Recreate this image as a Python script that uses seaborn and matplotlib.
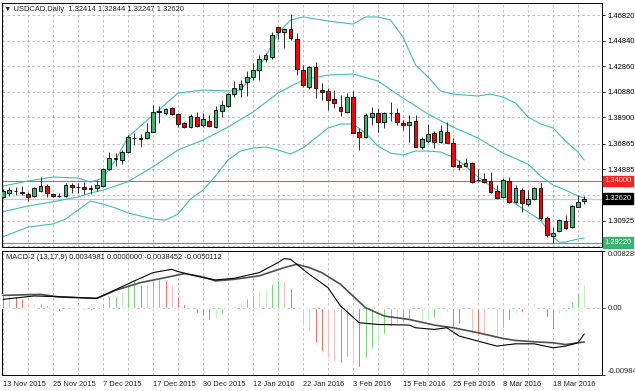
import matplotlib
matplotlib.use("Agg")
import numpy as np
import pandas as pd
import matplotlib.pyplot as plt
import seaborn as sns

sns.set_style("white")
plt.rcParams['font.family'] = ['Liberation Sans', 'DejaVu Sans']

# daily candles, 13 Nov 2015 .. 25 Mar 2016
opens = [1.3279, 1.3304, 1.3323, 1.3314, 1.3301, 1.3283, 1.3322, 1.3360, 1.3298, 1.3286,
         1.3283, 1.3366, 1.3351, 1.3355, 1.3343, 1.3345, 1.3360, 1.3492, 1.3573, 1.3561,
         1.3625, 1.3729, 1.3731, 1.3729, 1.3780, 1.3934, 1.3927, 1.3961, 1.3915, 1.3845,
         1.3814, 1.3896, 1.3834, 1.3865, 1.3814, 1.3942, 1.3979, 1.4069, 1.4108, 1.4162,
         1.4205, 1.4257, 1.4340, 1.4360, 1.4587, 1.4553, 1.4571, 1.4494, 1.4257, 1.4123,
         1.4278, 1.4102, 1.4097, 1.4033, 1.3973, 1.3935, 1.4051, 1.3775, 1.3741, 1.3896,
         1.3927, 1.3857, 1.3926, 1.3922, 1.3850, 1.3829, 1.3865, 1.3664, 1.3710, 1.3772,
         1.3703, 1.3780, 1.3695, 1.3523, 1.3515, 1.3536, 1.3407, 1.3412, 1.3401, 1.3322,
         1.3278, 1.3401, 1.3239, 1.3329, 1.3219, 1.3262, 1.3347, 1.3111, 1.2974, 1.3015,
         1.3092, 1.3041, 1.3200, 1.32414]
highs = [1.3337, 1.3350, 1.3352, 1.3360, 1.3316, 1.3350, 1.3428, 1.3376, 1.3308, 1.3304,
         1.3381, 1.3386, 1.3386, 1.3394, 1.3368, 1.3407, 1.3497, 1.3625, 1.3613, 1.3639,
         1.3754, 1.3772, 1.3762, 1.3845, 1.3986, 1.3979, 1.3961, 1.3971, 1.3927, 1.3855,
         1.3917, 1.3935, 1.3922, 1.3909, 1.3979, 1.4025, 1.4079, 1.4172, 1.4180, 1.4251,
         1.4313, 1.4373, 1.4386, 1.4548, 1.4592, 1.4579, 1.4689, 1.4541, 1.4296, 1.4288,
         1.4321, 1.4154, 1.4115, 1.4102, 1.4064, 1.4077, 1.4097, 1.3806, 1.3922, 1.3973,
         1.3961, 1.3935, 1.4012, 1.3961, 1.3870, 1.3909, 1.3909, 1.3741, 1.3840, 1.3788,
         1.3832, 1.3853, 1.3729, 1.3561, 1.3574, 1.3548, 1.3489, 1.3463, 1.3471, 1.3368,
         1.3420, 1.3428, 1.3368, 1.3342, 1.3329, 1.3355, 1.3386, 1.3128, 1.3046, 1.3103,
         1.3136, 1.3213, 1.3291, 1.32844]
lows = [1.3268, 1.3285, 1.3291, 1.3291, 1.3247, 1.3273, 1.3314, 1.3278, 1.3273, 1.3278,
        1.3273, 1.3304, 1.3304, 1.3298, 1.3298, 1.3324, 1.3355, 1.3484, 1.3515, 1.3530,
        1.3618, 1.3677, 1.3664, 1.3721, 1.3775, 1.3845, 1.3909, 1.3909, 1.3819, 1.3809,
        1.3809, 1.3819, 1.3816, 1.3814, 1.3809, 1.3896, 1.3971, 1.4051, 1.4051, 1.4056,
        1.4180, 1.4180, 1.4321, 1.4340, 1.4494, 1.4425, 1.4489, 1.4218, 1.4123, 1.4108,
        1.4038, 1.4025, 1.3948, 1.3961, 1.3901, 1.3922, 1.3768, 1.3639, 1.3729, 1.3832,
        1.3780, 1.3806, 1.3865, 1.3832, 1.3793, 1.3703, 1.3659, 1.3644, 1.3695, 1.3652,
        1.3690, 1.3690, 1.3505, 1.3484, 1.3505, 1.3386, 1.3394, 1.3381, 1.3304, 1.3257,
        1.3270, 1.3231, 1.3227, 1.3162, 1.3206, 1.3252, 1.3097, 1.2968, 1.2922, 1.3007,
        1.3026, 1.3033, 1.3196, 1.32247]
closes = [1.3318, 1.3329, 1.3325, 1.3306, 1.3278, 1.3342, 1.3360, 1.3304, 1.3283, 1.3284,
          1.3366, 1.3350, 1.3349, 1.3335, 1.3341, 1.3370, 1.3492, 1.3574, 1.3575, 1.3621,
          1.3741, 1.3731, 1.3726, 1.3780, 1.3930, 1.3937, 1.3953, 1.3915, 1.3840, 1.3819,
          1.3904, 1.3826, 1.3878, 1.3824, 1.3948, 1.3986, 1.4069, 1.4115, 1.4146, 1.4205,
          1.4257, 1.4340, 1.4373, 1.4527, 1.4553, 1.4571, 1.4502, 1.4262, 1.4141, 1.4282,
          1.4115, 1.4089, 1.4025, 1.3999, 1.3940, 1.4051, 1.3772, 1.3741, 1.3909, 1.3927,
          1.3857, 1.3922, 1.3928, 1.3857, 1.3829, 1.3857, 1.3664, 1.3721, 1.3762, 1.3703,
          1.3788, 1.3695, 1.3515, 1.3505, 1.3540, 1.3394, 1.3405, 1.3394, 1.3316, 1.3270,
          1.3407, 1.3239, 1.3342, 1.3227, 1.3262, 1.3347, 1.3111, 1.2981, 1.2995, 1.3097,
          1.3033, 1.3206, 1.3234, 1.32620]

# Bollinger bands (bar index -> price)
upper_idx = [0, 4, 8, 12, 14, 16, 18, 20, 24, 28, 32, 36, 38, 40, 42, 44, 46, 48, 52, 56,
             58, 60, 62, 64, 66, 68, 70, 72, 76, 78, 80, 82, 84, 86, 88, 90, 92, 93]
upper_band = [1.3360, 1.3399, 1.3430, 1.3422, 1.3391, 1.3422, 1.3561, 1.3739, 1.3909, 1.4079,
              1.4102, 1.4095, 1.4102, 1.4218, 1.4357, 1.4543, 1.4643, 1.4667, 1.4636, 1.4612,
              1.4667, 1.4667, 1.4643, 1.4512, 1.4296, 1.4203, 1.4095, 1.4071, 1.4056, 1.4071,
              1.4048, 1.4002, 1.3894, 1.3840, 1.3809, 1.3708, 1.3623, 1.3561]
mid_idx = [0, 4, 8, 12, 14, 16, 20, 24, 28, 32, 36, 40, 44, 48, 52, 56, 60, 64, 68, 72,
           76, 80, 84, 86, 88, 90, 92, 93]
mid_band = [1.3162, 1.3206, 1.3239, 1.3275, 1.3306, 1.3329, 1.3394, 1.3509, 1.3639, 1.3716,
            1.3816, 1.3932, 1.4079, 1.4180, 1.4218, 1.4226, 1.4172, 1.4040, 1.3917, 1.3816,
            1.3731, 1.3615, 1.3530, 1.3438, 1.3368, 1.3329, 1.3283, 1.3268]
lower_idx = [0, 4, 8, 10, 12, 14, 16, 18, 20, 24, 26, 28, 30, 32, 34, 36, 38, 40, 42, 44,
             46, 48, 50, 52, 54, 56, 58, 60, 62, 64, 66, 68, 70, 72, 74, 76, 78, 80, 82, 84,
             86, 88, 89, 90, 92, 93]
lower_band = [1.2968, 1.3043, 1.3067, 1.3105, 1.3175, 1.3244, 1.3221, 1.3190, 1.3152, 1.3105,
              1.3097, 1.3144, 1.3260, 1.3329, 1.3438, 1.3561, 1.3631, 1.3654, 1.3662, 1.3639,
              1.3608, 1.3654, 1.3731, 1.3809, 1.3840, 1.3840, 1.3770, 1.3669, 1.3615, 1.3600,
              1.3631, 1.3631, 1.3623, 1.3584, 1.3515, 1.3430, 1.3360, 1.3298, 1.3221, 1.3159,
              1.3097, 1.2966, 1.2927, 1.2927, 1.2951, 1.2958]

# MACD-2 (13,17,9)
hist = [0.00200, 0.00180, 0.00165, 0.00128, 0.00085, 0.00073, 0.00073, 0.00034, 0.00003, -0.00049,
        -0.00013, -0.00012, 0.00004, -0.00032, -0.00040, -0.00013, 0.00073, 0.00165, 0.00178, 0.00240,
        0.00352, 0.00400, 0.00352, 0.00340, 0.00420, 0.00420, 0.00403, 0.00333, 0.00165, 0.00049,
        0.00003, -0.00073, -0.00117, -0.00186, -0.00156, -0.00098, -0.00004, 0.00030, 0.00078, 0.00142,
        0.00180, 0.00250, 0.00269, 0.00352, 0.00403, 0.00395, 0.00288, 0.00003, -0.00272, -0.00345,
        -0.00520, -0.00640, -0.00730, -0.00778, -0.00815, -0.00719, -0.00828, -0.00866, -0.00736, -0.00584,
        -0.00508, -0.00388, -0.00266, -0.00225, -0.00220, -0.00185, -0.00238, -0.00200, -0.00185, -0.00155,
        -0.00070, -0.00070, -0.00300, -0.00240, -0.00330, -0.00390, -0.00410, -0.00380, -0.00410, -0.00410,
        -0.00300, -0.00181, -0.00083, -0.00068, -0.00044, 0.00064, -0.00020, -0.00142, -0.00313, -0.00093,
        -0.00068, 0.00103, 0.00235, 0.0034981]
hist_shade = ['r', 'lr', 'r', 'r', 'lr', 'lg', 'g', 'r', 'lr', 'r',
              'lg', 'lg', 'g', 'r', 'r', 'lg', 'g', 'g', 'g', 'lg',
              'g', 'g', 'r', 'lr', 'g', 'g', 'r', 'lr', 'r', 'r',
              'lr', 'r', 'r', 'r', 'lg', 'g', 'lg', 'g', 'lg', 'g',
              'g', 'lg', 'lg', 'g', 'g', 'lr', 'r', 'r', 'lr', 'lr',
              'r', 'r', 'lr', 'lr', 'r', 'g', 'lr', 'r', 'g', 'g',
              'lg', 'g', 'g', 'lg', 'g', 'g', 'r', 'lg', 'lg', 'g',
              'lg', 'lg', 'r', 'r', 'lr', 'lr', 'r', 'lr', 'lr', 'lr',
              'g', 'r', 'lg', 'r', 'lg', 'lg', 'lr', 'r', 'r', 'lg',
              'lg', 'g', 'g', 'lg']
macd_idx = [0, 5, 10, 15, 17, 21, 24, 27, 28, 32, 34, 37, 41, 44, 45, 46, 48, 49, 52, 54,
            57, 60, 65, 66, 69, 71, 73, 76, 79, 82, 85, 88, 90, 92, 93]
macd_line = [0.00122, 0.00172, 0.00157, 0.00136, 0.00220, 0.00391, 0.00513, 0.00561, 0.00528, 0.00440,
             0.00406, 0.00430, 0.00513, 0.00660, 0.00718, 0.00708, 0.00561, 0.00488, 0.00293, 0.00025,
             -0.00220, -0.00245, -0.00254, -0.00293, -0.00318, -0.00293, -0.00415, -0.00488, -0.00561, -0.00528,
             -0.00528, -0.00586, -0.00561, -0.00513, -0.0038452]
signal_idx = [0, 6, 9, 15, 18, 22, 26, 29, 32, 34, 37, 41, 45, 47, 49, 51, 54, 58, 61, 65,
              69, 72, 76, 80, 82, 85, 88, 90, 93]
signal_line = [0.00180, 0.00195, 0.00157, 0.00136, 0.00254, 0.00367, 0.00440, 0.00498, 0.00450, 0.00391,
               0.00415, 0.00465, 0.00586, 0.00635, 0.00586, 0.00513, 0.00342, 0.00000, -0.00122, -0.00172,
               -0.00254, -0.00293, -0.00366, -0.00450, -0.00479, -0.00498, -0.00513, -0.00538, -0.0050112]

date_labels = ['13 Nov 2015', '25 Nov 2015', '7 Dec 2015', '17 Dec 2015', '30 Dec 2015',
               '12 Jan 2016', '22 Jan 2016', '3 Feb 2016', '15 Feb 2016', '25 Feb 2016',
               '8 Mar 2016', '18 Mar 2016']
price_ticks = [1.46820, 1.44840, 1.42860, 1.40880, 1.38900, 1.36865, 1.34885, 1.32905,
               1.30925, 1.28945]
price_tick_labels = ['1.46820', '1.44840', '1.42860', '1.40880', '1.38900', '1.36865',
                     '1.34885', '1.32905', '1.30925', '1.28945']

FS = 5.4
BULL = '#3cb371'
BEAR = '#ff0000'
BAND = '#3fbfb5'
GRID = '#b8b8b8'
shade_colors = {'g': '#1fbf1f', 'lg': '#98ec98', 'r': '#ff1010', 'lr': '#ff9090'}

df = pd.DataFrame({'open': opens, 'high': highs, 'low': lows, 'close': closes})
df['i'] = np.arange(len(df))
df['bull'] = df['close'] >= df['open']

fig = plt.figure(figsize=(6.35, 3.91), dpi=100)
ax = fig.add_axes([2 / 635, 144 / 391, 600 / 635, 244 / 391])
ax2 = fig.add_axes([2 / 635, 16 / 391, 600 / 635, 124 / 391])

# price panel
ax.vlines(df['i'], df['low'], df['high'], color='#303030', lw=0.7, zorder=3)
body_lo = df[['open', 'close']].min(axis=1)
body_h = (df['close'] - df['open']).abs().clip(lower=0.00025)
ax.bar(df['i'], body_h, bottom=body_lo, width=0.62,
       color=np.where(df['bull'], BULL, BEAR), edgecolor='black', linewidth=0.6, zorder=4)

sns.lineplot(x=upper_idx, y=upper_band, ax=ax, color=BAND, lw=0.8, zorder=2)
sns.lineplot(x=mid_idx, y=mid_band, ax=ax, color=BAND, lw=0.8, zorder=2)
sns.lineplot(x=lower_idx, y=lower_band, ax=ax, color=BAND, lw=0.8, zorder=2)

ax.axhline(1.34000, color='#ff5050', lw=0.8, zorder=1)
ax.axhline(1.32620, color='#c8c8c8', lw=0.9, zorder=1)
ax.axhline(1.29220, color='#3cb371', lw=0.8, zorder=1)

ax.set_xlim(-0.16, 95.84)
ax.set_ylim(1.2889, 1.4775)
ax.set_xticks(np.arange(0, 94, 4))
ax.set_xticklabels([])
ax.set_yticks(price_ticks)
ax.set_yticklabels(price_tick_labels)
ax.yaxis.tick_right()
ax.tick_params(axis='y', length=2.5, width=0.6, pad=1.5, labelsize=FS, colors='black')
ax.tick_params(axis='x', length=0)
ax.grid(True, ls=(0, (3, 3)), color=GRID, lw=0.6)
ax.set_axisbelow(True)
ax.text(0.004, 0.988, '\u25bc USDCAD,Daily  1.32414 1.32844 1.32247 1.32620',
        transform=ax.transAxes, va='top', ha='left', fontsize=FS)

trans = ax.get_yaxis_transform()
for val, txt, bg in [(1.34000, '1.34000', '#ff2020'), (1.32620, '1.32620', '#000000'),
                     (1.29220, '1.29220', '#3cb371')]:
    ax.text(1.004, val, txt, transform=trans, va='center', ha='left', fontsize=FS,
            color='white', clip_on=False, zorder=10,
            bbox=dict(boxstyle='square,pad=0.25', fc=bg, ec=bg))

# MACD panel
ax2.bar(np.arange(len(hist)), hist, width=0.32,
        color=[shade_colors[s] for s in hist_shade], zorder=3)
sns.lineplot(x=signal_idx, y=signal_line, ax=ax2, color='#505050', lw=1.2, zorder=4)
sns.lineplot(x=macd_idx, y=macd_line, ax=ax2, color='black', lw=0.8, zorder=5)
ax2.axhline(0, color=GRID, ls=(0, (3, 3)), lw=0.6, zorder=1)

ax2.set_xlim(-0.16, 95.84)
ax2.set_ylim(-0.009840, 0.008289)
ax2.set_xticks(np.arange(0, 94, 8))
ax2.set_xticklabels(date_labels)
ax2.set_xticks(np.arange(4, 94, 8), minor=True)
for lab in ax2.get_xticklabels():
    lab.set_horizontalalignment('left')
ax2.tick_params(axis='x', which='major', length=2.5, width=0.6, pad=1.5, labelsize=FS)
ax2.tick_params(axis='x', which='minor', length=0)
ax2.xaxis.grid(True, which='both', ls=(0, (3, 3)), color=GRID, lw=0.6)
ax2.set_yticks([-0.009840, 0.0, 0.008289])
ax2.set_yticklabels(['-0.009840', '0.00', '0.008289'])
ax2.yaxis.tick_right()
ax2.tick_params(axis='y', length=2.5, width=0.6, pad=1.5, labelsize=FS)
ylabs = ax2.get_yticklabels()
ylabs[0].set_verticalalignment('bottom')
ylabs[2].set_verticalalignment('top')
ax2.set_axisbelow(True)
ax2.text(0.006, 0.975, 'MACD-2 (13,17,9) 0.0034981 0.0000000 -0.0038452 -0.0050112',
         transform=ax2.transAxes, va='top', ha='left', fontsize=FS)

for a in (ax, ax2):
    for sp in a.spines.values():
        sp.set_color('black')
        sp.set_linewidth(0.7)
    a.set_xlabel('')
    a.set_ylabel('')

fig.savefig('out.png', dpi=100)
